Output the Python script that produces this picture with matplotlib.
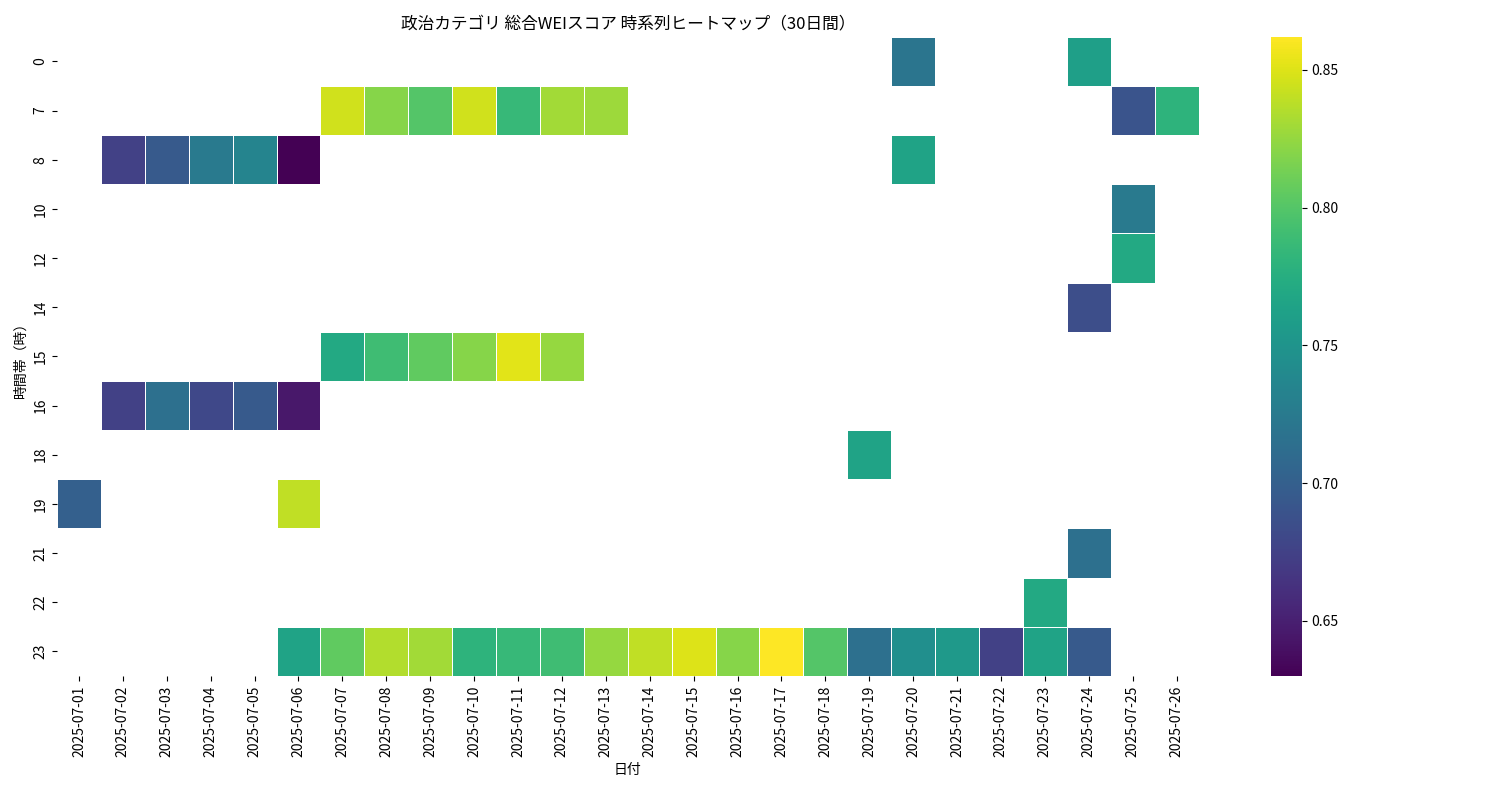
import numpy as np
import pandas as pd
import matplotlib
matplotlib.use("Agg")
import matplotlib.pyplot as plt
import seaborn as sns

plt.rcParams["font.family"] = ["Noto Sans CJK JP", "DejaVu Sans"]

dates = [f"2025-07-{d:02d}" for d in range(1, 27)]
hours = [0, 7, 8, 10, 12, 14, 15, 16, 18, 19, 21, 22, 23]

# values keyed by (hour, date)
h0 = {"2025-07-20": 0.72, "2025-07-24": 0.76}
h7 = {"2025-07-07": 0.845, "2025-07-08": 0.82, "2025-07-09": 0.80, "2025-07-10": 0.845,
      "2025-07-11": 0.785, "2025-07-12": 0.83, "2025-07-13": 0.828,
      "2025-07-25": 0.69, "2025-07-26": 0.78}
h8 = {"2025-07-02": 0.675, "2025-07-03": 0.695, "2025-07-04": 0.725, "2025-07-05": 0.735,
      "2025-07-06": 0.63, "2025-07-20": 0.765}
h10 = {"2025-07-25": 0.725}
h12 = {"2025-07-25": 0.77}
h14 = {"2025-07-24": 0.685}
h15 = {"2025-07-07": 0.77, "2025-07-08": 0.79, "2025-07-09": 0.805, "2025-07-10": 0.82,
       "2025-07-11": 0.852, "2025-07-12": 0.825}
h16 = {"2025-07-02": 0.675, "2025-07-03": 0.715, "2025-07-04": 0.68, "2025-07-05": 0.695,
       "2025-07-06": 0.645}
h18 = {"2025-07-19": 0.765}
h19 = {"2025-07-01": 0.70, "2025-07-06": 0.84}
h21 = {"2025-07-24": 0.715}
h22 = {"2025-07-23": 0.77}
h23 = {"2025-07-06": 0.765, "2025-07-07": 0.805, "2025-07-08": 0.835, "2025-07-09": 0.83,
       "2025-07-10": 0.78, "2025-07-11": 0.785, "2025-07-12": 0.79, "2025-07-13": 0.825,
       "2025-07-14": 0.84, "2025-07-15": 0.85, "2025-07-16": 0.82, "2025-07-17": 0.862,
       "2025-07-18": 0.80, "2025-07-19": 0.715, "2025-07-20": 0.745, "2025-07-21": 0.755,
       "2025-07-22": 0.675, "2025-07-23": 0.765, "2025-07-24": 0.695}
rows = [h0, h7, h8, h10, h12, h14, h15, h16, h18, h19, h21, h22, h23]

df = pd.DataFrame([[r.get(d, np.nan) for d in dates] for r in rows], index=hours, columns=dates)

fig = plt.figure(figsize=(15, 8), dpi=100)
ax = fig.add_axes([0.038, 0.155, 0.761, 0.799])
cax = fig.add_axes([0.847, 0.155, 0.021, 0.799])
sns.heatmap(df, ax=ax, cbar_ax=cax, cmap="viridis", linewidths=0.5, linecolor="white")
ax.set_title("政治カテゴリ 総合WEIスコア 時系列ヒートマップ（30日間）", fontsize=12)
ax.set_xlabel("日付", fontsize=10)
ax.set_ylabel("時間帯（時）", fontsize=10)
ax.tick_params(axis="x", rotation=90, labelsize=10)
ax.tick_params(axis="y", labelsize=10)
cax.tick_params(labelsize=10)
cax.spines[:].set_visible(False)
fig.savefig("out.png")
